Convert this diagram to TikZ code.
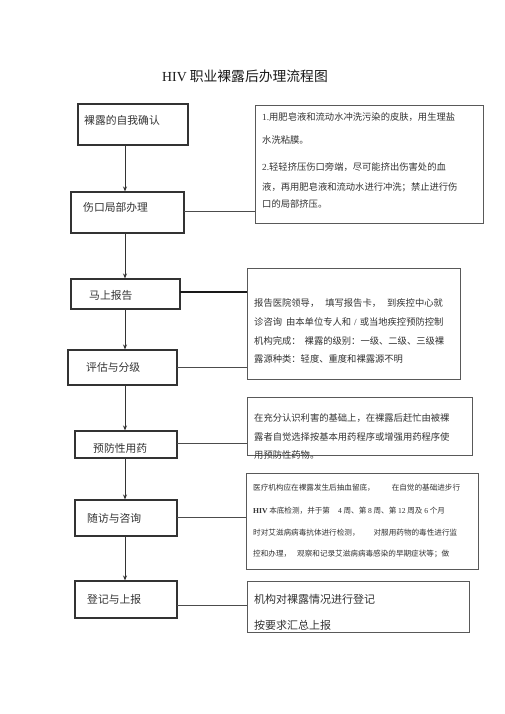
\documentclass[tikz,border=0pt]{standalone}
\usepackage{fontspec}
\setmainfont{Noto Sans CJK SC}
\newfontfamily\latin{Liberation Serif}
\usetikzlibrary{arrows.meta}
\begin{document}
\begin{tikzpicture}[x=1pt,y=-1pt,
  lbox/.style={draw=black!80, line width=1.1pt, rectangle, inner sep=0pt},
  rbox/.style={draw=black!65, line width=0.9pt, rectangle, inner sep=0pt},
  txt/.style={anchor=west, inner sep=0pt, text=black!80},
  ltxt/.style={txt, font=\fontsize{10.8}{12}\selectfont},
  atxt/.style={txt, font=\fontsize{9.3}{11}\selectfont},
  dtxt/.style={txt, font=\fontsize{7.6}{9}\selectfont},
  etxt/.style={txt, font=\fontsize{11}{13}\selectfont},
  link/.style={draw=black!70, line width=0.9pt},
  thicklink/.style={draw=black!90, line width=2pt},
  arr/.style={draw=black!80, line width=0.9pt, -{Stealth[length=5pt,width=4pt]}}
]
\useasboundingbox[fill=white] (0,0) rectangle (505,714);

% title
\node[txt, text=black!90, font=\fontsize{13.8}{16}\selectfont] (title) at (162,76) {{\latin HIV} 职业裸露后办理流程图};

% left boxes
\node[lbox, minimum width=110pt, minimum height=41pt] (b1) at (133,124.5) {};
\node[lbox, minimum width=113pt, minimum height=41pt] (b2) at (127.5,212.5) {};
\node[lbox, minimum width=109pt, minimum height=30pt] (b3) at (125.5,294) {};
\node[lbox, minimum width=109pt, minimum height=35pt] (b4) at (122.5,367.5) {};
\node[lbox, minimum width=102pt, minimum height=27pt] (b5) at (126,444.5) {};
\node[lbox, minimum width=102pt, minimum height=36pt] (b6) at (126,518) {};
\node[lbox, minimum width=102pt, minimum height=37pt] (b7) at (126,599.5) {};

\node[ltxt] (t1) at (84,120) {裸露的自我确认};
\node[ltxt] (t2) at (83,207) {伤口局部办理};
\node[ltxt] (t3) at (89,295) {马上报告};
\node[ltxt] (t4) at (86,367) {评估与分级};
\node[ltxt] (t5) at (93,448) {预防性用药};
\node[ltxt] (t6) at (87,518) {随访与咨询};
\node[ltxt] (t7) at (87,599) {登记与上报};

% right boxes
\node[rbox, minimum width=228pt, minimum height=118pt] (A) at (369,164) {};
\node[rbox, minimum width=213pt, minimum height=111pt] (B) at (353.5,323.5) {};
\node[rbox, minimum width=225pt, minimum height=58pt] (C) at (359.5,426) {};
\node[rbox, minimum width=232pt, minimum height=96pt] (D) at (362,521) {};
\node[rbox, minimum width=222pt, minimum height=51pt] (E) at (358,606.5) {};

% box A text
\node[atxt] (a1) at (262,117) {{\latin 1.}用肥皂液和流动水冲洗污染的皮肤，用生理盐};
\node[atxt] (a2) at (262,140) {水洗粘膜。};
\node[atxt] (a3) at (262,167) {{\latin 2.}轻轻挤压伤口旁端，尽可能挤出伤害处的血};
\node[atxt] (a4) at (262,187) {液，再用肥皂液和流动水进行冲洗；禁止进行伤};
\node[atxt] (a5) at (262,204) {口的局部挤压。};

% box B text
\node[atxt] (bb1) at (254,303) {报告医院领导，\hspace{6pt}填写报告卡，\hspace{6pt}到疾控中心就};
\node[atxt] (bb2) at (254,322) {诊咨询\hspace{4pt}由本单位专人和\hspace{3pt}{\latin /}\hspace{3pt}或当地疾控预防控制};
\node[atxt] (bb3) at (254,341) {机构完成：\hspace{4pt}裸露的级别：一级、二级、三级裸};
\node[atxt] (bb4) at (254,359) {露源种类：轻度、重度和裸露源不明};

% box C text
\node[atxt] (c1) at (254,418) {在充分认识利害的基础上，在裸露后赶忙由被裸};
\node[atxt] (c2) at (254,437) {露者自觉选择按基本用药程序或增强用药程序使};
\node[atxt] (c3) at (254,455) {用预防性药物。};

% box D text
\node[dtxt] (d1) at (253,488) {医疗机构应在裸露发生后抽血留底，\hspace{17pt}在自觉的基础进步行};
\node[dtxt] (d2) at (253,511) {{\latin\bfseries HIV} 本底检测，并于第\hspace{8pt}{\latin 4} 周、第 {\latin 8} 周、第 {\latin 12} 周及 {\latin 6} 个月};
\node[dtxt] (d3) at (253,533) {时对艾滋病病毒抗体进行检测，\hspace{14pt}对服用药物的毒性进行监};
\node[dtxt] (d4) at (253,554) {控和办理，\hspace{6pt}观察和记录艾滋病病毒感染的早期症状等；做};

% box E text
\node[etxt] (e1) at (254,599) {机构对裸露情况进行登记};
\node[etxt] (e2) at (254,625) {按要求汇总上报};

% vertical arrows
\coordinate (v) at (125,0);
\draw[arr] (b1.south -| v) -- (b2.north -| v);
\draw[arr] (b2.south -| v) -- (b3.north -| v);
\draw[arr] (b3.south -| v) -- (b4.north -| v);
\draw[arr] (b4.south -| v) -- (b5.north -| v);
\draw[arr] (b5.south -| v) -- (b6.north -| v);
\draw[arr] (b6.south -| v) -- (b7.north -| v);

% horizontal links
\coordinate (h2) at (184,211);
\coordinate (h3) at (180,292);
\coordinate (h4) at (177,367);
\coordinate (h5) at (177,443);
\coordinate (h6) at (177,517);
\coordinate (h7) at (177,605);
\draw[link] (h2) -- (h2 -| A.west);
\draw[thicklink] (h3) -- (h3 -| B.west);
\draw[link] (h4) -- (h4 -| B.west);
\draw[link] (h5) -- (h5 -| C.west);
\draw[link] (h6) -- (h6 -| D.west);
\draw[link] (h7) -- (h7 -| E.west);
\end{tikzpicture}
\end{document}
